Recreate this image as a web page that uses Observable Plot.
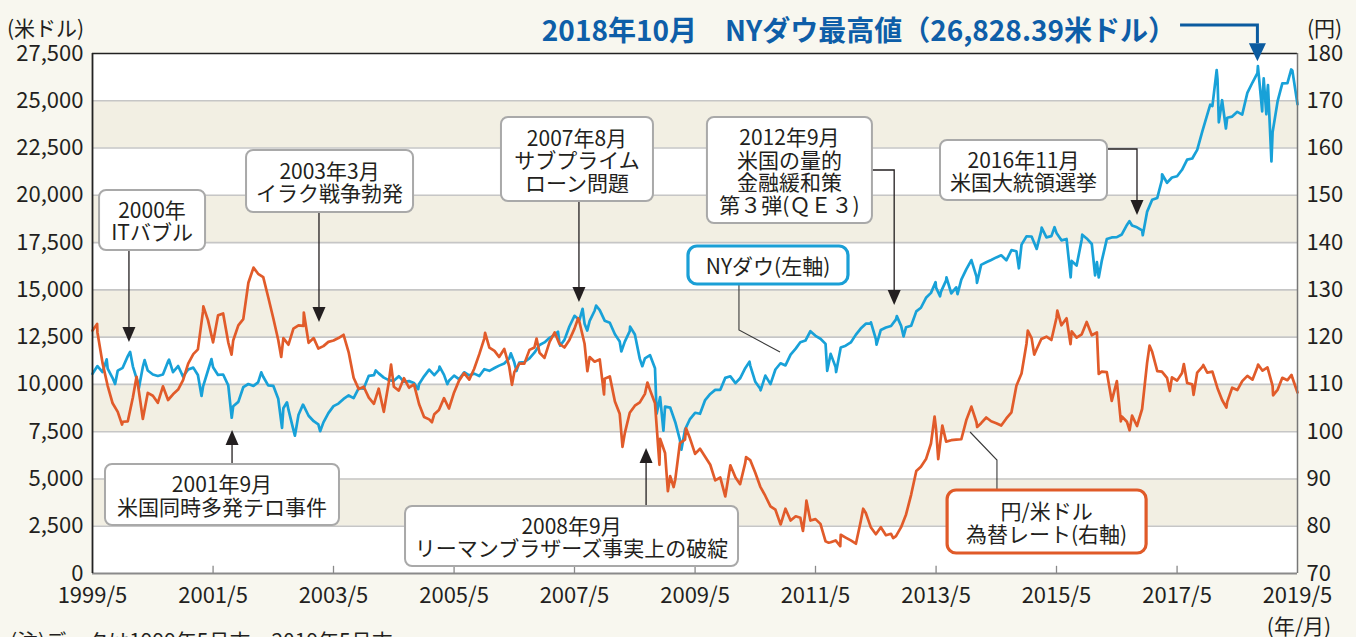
<!DOCTYPE html>
<html><head><meta charset="utf-8">
<script src="https://cdn.jsdelivr.net/npm/d3@7"></script>
<script src="https://cdn.jsdelivr.net/npm/@observablehq/plot@0.6"></script>
<style>
html,body{margin:0;padding:0;background:#f8f7ef;}
#chart svg{display:block;}
</style>
</head><body><div id="chart"></div>
<script>
// ---- data (month-end values, 1999/5 .. 2019/5) ----
const dowMonthEnd = [
 10560,10971,10655,10829,10337,10729,10878,11497,
 10941,10128,10922,10734,10522,10448,10522,11215,10651,10971,10415,10787,
 10887,10495,9879,10735,10912,10502,10523,9950,8848,9075,9852,10022,
 9920,10106,10404,9946,9925,9243,8737,8664,7592,8397,8896,8342,
 8054,7891,7992,8480,8850,8985,9234,9416,9275,9801,9782,10454,
 10488,10584,10358,10226,10188,10435,10140,10174,10080,10027,10428,10783,
 10490,10766,10504,10193,10467,10275,10641,10482,10569,10440,10806,10718,
 10865,10993,11109,11367,11168,11150,11186,11381,11679,12081,12222,12463,
 12622,12269,12354,13063,13628,13409,13212,13358,13896,13930,13372,13265,
 12650,12266,12263,12820,12638,11350,11378,11544,10851,9325,8829,8776,
 8001,7063,7609,8168,8500,8447,9172,9496,9712,9713,10345,10428,
 10067,10325,10857,11009,10137,9774,10466,10015,10788,11118,11006,11578,
 11892,12226,12320,12811,12570,12414,12143,11614,10913,11955,12046,12218,
 12633,12952,13212,13214,12393,12880,13009,13091,13437,13096,13026,13104,
 13861,14054,14579,14840,15116,14910,15500,14810,15130,15546,16086,16577,
 15699,16322,16458,16581,16717,16827,16563,17098,17043,17391,17828,17823,
 17165,18133,17776,17841,18011,17620,17690,16528,16285,17664,17720,17425,
 16466,16517,17685,17774,17787,17930,18432,18401,18308,18142,19124,19763,
 19864,20812,20663,20941,21009,21350,21891,21948,22405,23377,24272,24719,
 26149,25029,24103,24163,24416,24271,25415,25965,26458,25116,25538,23327,
 24999,25916,25929,26593,24815
];
const yenMonthEnd = [
 121.4,121.0,114.5,109.7,106.0,104.2,102.1,102.2,
 107.3,110.3,102.7,108.2,107.6,106.1,109.6,106.7,107.9,108.9,110.9,114.4,
 116.4,117.4,125.5,123.6,118.9,124.6,125.0,118.9,119.3,122.5,123.8,131.5,
 134.7,133.4,132.7,128.5,124.0,119.4,119.8,118.4,121.8,122.5,122.4,118.8,
 119.8,117.6,118.1,119.0,119.3,119.8,120.5,116.8,111.4,109.0,109.5,107.2,
 105.9,109.1,104.2,110.4,109.5,108.7,111.3,109.3,110.0,105.8,103.1,102.6,
 103.7,104.6,107.1,104.9,108.3,110.8,112.4,111.0,113.3,116.4,119.7,117.8,
 117.1,115.8,117.5,113.8,112.6,114.4,114.4,117.3,117.8,116.7,115.6,119.0,
 121.0,118.6,117.8,119.4,121.8,123.2,118.6,115.8,114.8,115.3,111.2,111.7,
 106.4,103.8,99.7,104.0,105.5,106.2,108.0,108.8,106.0,98.5,95.5,90.6,
 89.9,97.6,98.3,98.6,95.3,96.4,94.7,93.0,89.7,90.3,86.3,92.9,
 90.3,88.9,93.4,94.0,91.3,88.4,86.4,84.2,83.5,80.4,83.7,81.2,
 82.1,81.8,83.1,81.2,81.5,80.5,76.8,76.6,77.0,78.2,77.6,77.0,
 76.3,81.0,82.8,79.8,78.3,79.8,78.1,78.4,77.9,79.8,82.5,86.7,
 91.7,92.6,94.2,97.5,100.5,99.1,97.9,98.2,98.3,98.4,102.4,105.3,
 102.0,101.8,103.0,102.2,101.8,101.3,102.8,104.1,109.7,112.3,118.6,119.8,
 117.5,119.6,120.1,119.4,124.1,122.5,124.0,121.2,119.9,120.6,123.2,120.4,
 121.0,112.7,112.6,106.5,110.7,103.2,102.1,103.4,101.2,104.8,114.5,116.9,
 112.8,112.7,111.4,111.5,110.8,112.4,110.3,110.0,112.5,113.7,112.5,112.7,
 109.2,106.7,106.3,109.3,108.8,110.7,111.8,111.0,113.7,112.9,113.6,109.7,
 108.9,111.4,110.9,111.4,108.3
];
// intra-month highs / lows
const dowSwings = [
 ["1999-08-25",11326],["1999-10-15",10019],["2000-01-14",11723],["2000-03-07",9797],["2000-04-11",11287],
 ["2000-09-06",11310],["2001-03-22",9389],["2001-05-21",11337],["2001-09-21",8236],["2002-03-19",10635],
 ["2002-07-23",7702],["2002-08-22",9053],["2002-10-09",7286],["2002-11-27",8931],["2003-03-11",7524],
 ["2004-02-11",10737],["2004-10-25",9750],["2005-03-04",10941],["2005-04-20",10013],["2006-05-10",11642],
 ["2006-06-13",10707],["2007-02-20",12786],["2007-03-05",12050],["2007-07-19",14000],["2007-08-16",12846],
 ["2007-10-09",14165],["2008-03-10",11740],["2008-05-02",13058],["2008-07-15",10963],["2008-10-10",8451],
 ["2008-11-20",7552],["2009-03-09",6547],["2010-04-26",11205],["2010-07-02",9686],["2011-08-10",10719],
 ["2011-10-03",10655],["2012-05-01",13279],["2012-06-04",12101],["2012-10-05",13610],["2012-11-15",12542],
 ["2013-05-28",15409],["2013-06-24",14660],["2013-08-02",15658],["2013-10-08",14776],["2014-02-03",15373],
 ["2014-10-15",16142],["2015-03-02",18288],["2015-05-19",18312],["2015-08-25",15666],["2015-11-03",17918],
 ["2016-01-20",15767],["2016-02-11",15660],["2016-08-15",18636],["2016-11-04",17888],["2017-03-01",21115],
 ["2017-12-18",24792],["2018-01-26",26617],["2018-02-08",23860],["2018-03-23",23533],["2018-10-03",26828],
 ["2018-10-29",24443],["2018-11-07",26180],["2018-11-23",24286],["2018-12-03",25826],["2018-12-24",21792],
 ["2019-04-23",26656]
];
const yenSwings = [
 ["1999-06-28",122.8],["1999-11-26",101.5],["2000-02-22",111.6],["2001-04-02",126.5],["2001-09-20",116.3],
 ["2002-07-18",115.8],["2002-12-02",125.2],["2004-05-14",114.2],["2005-01-17",102.0],["2005-12-05",120.9],
 ["2006-05-17",109.9],["2006-10-13",119.7],["2007-06-22",124.0],["2007-08-17",112.8],["2007-11-26",107.9],
 ["2008-03-17",96.8],["2008-08-15",110.4],["2008-10-27",93.0],["2008-12-17",87.4],["2009-01-21",88.3],
 ["2009-04-06",100.7],["2010-04-05",94.6],["2010-11-01",80.4],["2011-03-16",79.0],["2011-04-06",85.4],
 ["2011-08-19",76.5],["2011-10-28",75.8],["2012-03-15",83.7],["2012-09-13",77.5],["2013-05-22",103.2],
 ["2013-06-13",94.2],["2013-07-08",101.3],["2014-02-04",101.0],["2014-12-08",121.4],["2015-01-16",116.3],
 ["2015-06-05",125.6],["2015-08-24",118.5],["2016-02-11",112.2],["2016-06-24",102.2],["2016-08-16",100.3],
 ["2016-12-15",118.2],["2017-04-17",108.6],["2017-07-11",114.3],["2017-09-08",107.8],["2017-11-06",114.1],
 ["2018-03-26",105.1],["2018-10-04",114.2],["2019-01-03",107.7],["2019-04-25",112.0]
];
const leftTicks = [0,2500,5000,7500,10000,12500,15000,17500,20000,22500,25000,27500];
const rightTicks = [70,80,90,100,110,120,130,140,150,160,170,180];
const xTickLabels = ["1999/5","2001/5","2003/5","2005/5","2007/5","2009/5","2011/5","2013/5","2015/5","2017/5","2019/5"];
const bandLows = [2500,7500,12500,17500,22500];

// ---- build tables ----
const FONT = "'Noto Sans CJK JP','Noto Sans',sans-serif";
const monthEnd = (y, m) => d3.utcDay.offset(new Date(Date.UTC(y, m, 1)), -1); // m = 1-based month
const monthDates = dowMonthEnd.map((_, i) => d3.utcDay.offset(d3.utcMonth.offset(new Date(Date.UTC(1999, 5, 1)), i), -1));
const xTicks = xTickLabels.map(s => { const [y, m] = s.split("/").map(Number); return monthEnd(y, m); });
const byDate = (a, b) => a.date - b.date;
const dow = monthDates.map((d, i) => ({date: d, value: dowMonthEnd[i]}))
  .concat(dowSwings.map(([s, v]) => ({date: new Date(s), value: v}))).sort(byDate);
const yen = monthDates.map((d, i) => ({date: d, value: yenMonthEnd[i]}))
  .concat(yenSwings.map(([s, v]) => ({date: new Date(s), value: v}))).sort(byDate);
const yenToLeft = v => (v - 70) * 250;
const x0 = xTicks[0], x1 = xTicks[xTicks.length - 1];

const chart = Plot.plot({
  width: 1356, height: 637,
  marginTop: 53, marginRight: 59, marginBottom: 64, marginLeft: 92,
  style: {background: "transparent", fontFamily: FONT, color: "#231f20"},
  x: {type: "utc", domain: [x0, x1], axis: null},
  y: {domain: [0, 27500], axis: null},
  marks: [
    Plot.frame({fill: "#ffffff", stroke: null}),
    Plot.rect(bandLows, {x1: () => x0, x2: () => x1, y1: d => d, y2: d => d + 2500, fill: "#f2efe3"}),
    Plot.ruleY(leftTicks.slice(1, -1), {stroke: "#c6c6c6", strokeWidth: 1.6}),
    Plot.ruleX(xTicks.slice(1, -1), {y1: 0, y2: 380, stroke: "#8a8a8a", strokeWidth: 1.3}),
    Plot.line(dow, {x: "date", y: "value", stroke: "#18a1d8", strokeWidth: 2.7}),
    Plot.line(yen, {x: "date", y: d => yenToLeft(d.value), stroke: "#e15b2a", strokeWidth: 2.7}),
    Plot.ruleY([0], {stroke: "#8a8a8a", strokeWidth: 1.8}),
    Plot.ruleY([27500], {stroke: "#222", strokeWidth: 1.3}),
    Plot.ruleX([x0], {stroke: "#222", strokeWidth: 1.8}),
    Plot.ruleX([x1], {stroke: "#777", strokeWidth: 1.5}),
    Plot.axisY(leftTicks, {anchor: "left", tickSize: 0, tickPadding: 9, tickFormat: d3.format(","), fontSize: 22, label: null}),
    Plot.axisY(rightTicks.map(yenToLeft), {anchor: "right", tickSize: 0, tickPadding: 9, tickFormat: d => String(Math.round(d / 250 + 70)), fontSize: 22, label: null}),
    Plot.axisX(xTicks, {tickSize: 0, tickPadding: 14, fontSize: 22, label: null,
      tickFormat: d => xTickLabels[xTicks.findIndex(t => +t === +d)]})
  ]
});
document.getElementById("chart").append(chart);

// ---- annotations (anchored in data space) ----
const X = chart.scale("x"), Y = chart.scale("y");
const P = ([d, v]) => [X.apply(new Date(d)), Y.apply(v)];
const svg = d3.select(chart);
const g = svg.append("g").attr("font-family", FONT).attr("text-anchor", "start");

const notes = [
  {lines: ["2000年", "ITバブル"], at: ["2000-05-29", 18668], w: 106, h: 60,
   path: [["2000-01-10", 17082], ["2000-01-10", 12216]], arrow: true},
  {lines: ["2003年3月", "イラク戦争勃発"], at: ["2003-05-10", 20731], w: 167, h: 62,
   path: [["2003-03-07", 19091], ["2003-03-07", 13274]], arrow: true},
  {lines: ["2001年9月", "米国同時多発テロ事件"], at: ["2001-07-27", 4151], w: 234, h: 61,
   path: [["2001-09-26", 5764], ["2001-09-26", 7563]], arrow: true},
  {lines: ["2007年8月", "サブプライム", "ローン問題"], at: ["2007-06-18", 21894], w: 152, h: 84,
   path: [["2007-06-30", 19673], ["2007-06-30", 14332]], arrow: true},
  {lines: ["2012年9月", "米国の量的", "金融緩和策", "第３弾(ＱＥ３)"], at: ["2010-12-27", 21313], w: 165, h: 106,
   path: [["2012-05-11", 21313], ["2012-09-22", 21313], ["2012-09-22", 14173]], arrow: true},
  {lines: ["2016年11月", "米国大統領選挙"], at: ["2014-11-15", 21313], w: 167, h: 60,
   path: [["2016-04-04", 22423], ["2016-10-03", 22423], ["2016-10-03", 18933]], arrow: true},
  {lines: ["2008年9月", "リーマンブラザーズ事実上の破綻"], at: ["2007-05-16", 1957], w: 333, h: 60,
   path: [["2008-08-10", 3596], ["2008-08-10", 6611]], arrow: true},
  {lines: ["NYダウ(左軸)"], at: ["2010-08-19", 16289], w: 160, h: 38, kind: "dow",
   path: [["2010-02-24", 15231], ["2010-02-24", 12851], ["2010-10-31", 11688]], arrow: false},
  {lines: ["円/米ドル", "為替レート(右軸)"], at: ["2015-04-04", 2724], w: 199, h: 63, kind: "yen",
   path: [["2014-06-07", 4389], ["2014-06-07", 5976], ["2013-12-26", 7457]], arrow: false}
];

function drawPath(pts, arrow, color, width, headL, headW) {
  const p = pts.map(P);
  if (arrow) {
    const [ax, ay] = p[p.length - 2], [bx, by] = p[p.length - 1];
    const len = Math.hypot(bx - ax, by - ay), ux = (bx - ax) / len, uy = (by - ay) / len;
    const base = [bx - ux * headL, by - uy * headL];
    const line = p.slice(0, -1).concat([base]);
    g.append("path").attr("d", d3.line()(line)).attr("fill", "none").attr("stroke", color).attr("stroke-width", width);
    const nx = -uy, ny = ux;
    g.append("path").attr("d", d3.line()([[bx, by], [base[0] + nx * headW, base[1] + ny * headW], [base[0] - nx * headW, base[1] - ny * headW]]) + "Z")
      .attr("fill", color);
  } else {
    g.append("path").attr("d", d3.line()(p)).attr("fill", "none").attr("stroke", color).attr("stroke-width", width);
  }
}

for (const n of notes) drawPath(n.path, n.arrow, n.arrow ? "#231f20" : "#3a3a3a", n.arrow ? 1.3 : 1.1, 15, 6.5);

for (const n of notes) {
  const [cx, cy] = P(n.at);
  const stroke = n.kind === "dow" ? "#1a9fd6" : n.kind === "yen" ? "#e05a28" : "#a9a9a9";
  const sw = n.kind ? 3.2 : 2;
  g.append("rect").attr("x", cx - n.w / 2).attr("y", cy - n.h / 2).attr("width", n.w).attr("height", n.h)
    .attr("rx", n.kind ? 9 : 7).attr("fill", "#fff").attr("stroke", stroke).attr("stroke-width", sw);
  const t = g.append("text").attr("text-anchor", "middle").attr("font-size", 21).attr("fill", "#231f20");
  n.lines.forEach((s, i) => {
    t.append("tspan").attr("x", cx).attr("y", cy + (i - (n.lines.length - 1) / 2) * 22.5)
      .attr("dominant-baseline", "central").text(s);
  });
}

// title with arrow to the record high
const titleArrow = [["2017-06-21", 28981], ["2018-10-03", 28981], ["2018-10-03", 27060]];
drawPath(titleArrow, true, "#0b5b9f", 3, 18, 8.5);
const [tx] = P(titleArrow[0]);
g.append("text").attr("x", tx - 4).attr("y", 29).attr("text-anchor", "end").attr("dominant-baseline", "central")
  .attr("font-size", 28).attr("font-weight", 700).attr("fill", "#0e5ea8")
  .text("2018年10月　NYダウ最高値（26,828.39米ドル）");

// unit labels and note
g.append("text").attr("x", 7).attr("y", 27).attr("text-anchor", "start").attr("dominant-baseline", "central").attr("font-size", 21).attr("fill", "#231f20").text("(米ドル)");
g.append("text").attr("x", 1307).attr("y", 27).attr("text-anchor", "start").attr("dominant-baseline", "central").attr("font-size", 21).attr("fill", "#231f20").text("(円)");
g.append("text").attr("x", 1299).attr("y", 625).attr("text-anchor", "middle").attr("dominant-baseline", "central").attr("font-size", 21).attr("fill", "#231f20").text("(年/月)");
g.append("text").attr("x", 10).attr("y", 649).attr("text-anchor", "start").attr("font-size", 21).attr("fill", "#231f20").text("(注)データは1999年5月末～2019年5月末");
</script>
</body></html>
